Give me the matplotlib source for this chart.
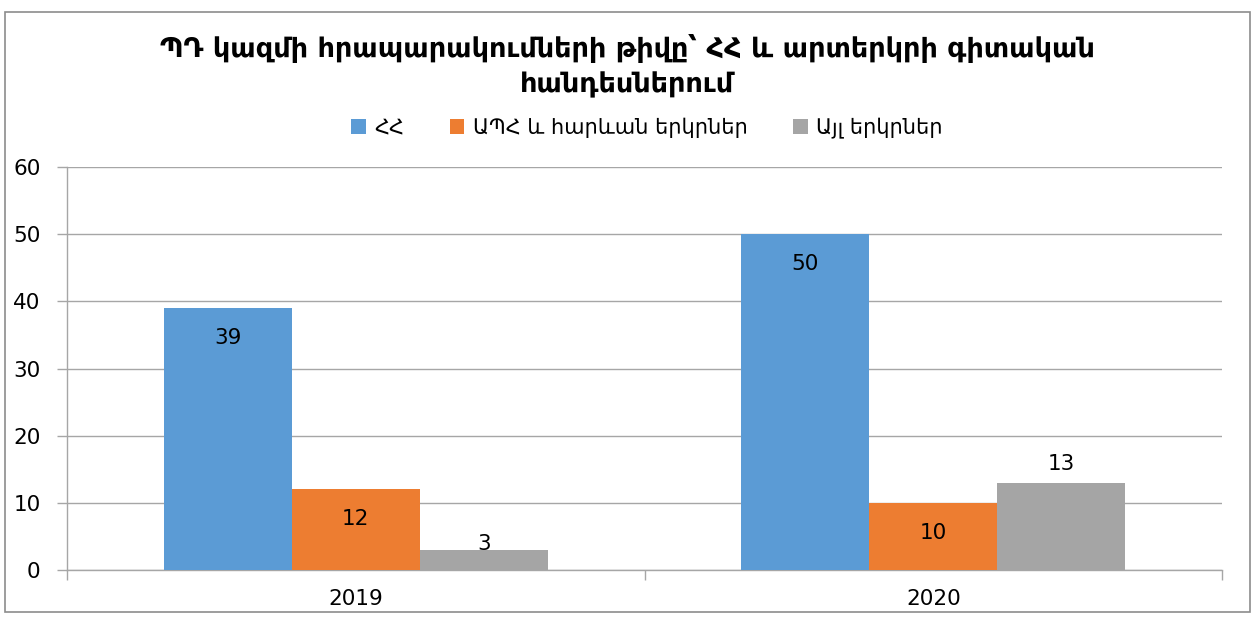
import matplotlib.pyplot as plt
import numpy as np
from matplotlib.patches import Rectangle

years = ["2019", "2020"]
series_names = ["ՀՀ", "ԱՊՀ և հարևան երկրներ", "Այլ երկրներ"]
hh = [39, 50]
aph = [12, 10]
ayl = [3, 13]
title = "ՊԴ կազմի հրապարակումների թիվը՝ ՀՀ և արտերկրի գիտական\nհանդեսներում"

colors = ["#5B9BD5", "#ED7D31", "#A5A5A5"]
grid_c = "#A6A6A6"
# label offsets in pixels (negative = inside bar)
lab_off = [[-30, -30], [-30, -30], [6, 19]]

plt.rcParams['font.family'] = ['DejaVu Sans']

fig = plt.figure(figsize=(12.54, 6.17), dpi=100)
ax = fig.add_axes([67/1254, 1-570/617, (1222-67)/1254, (570-167)/617])

x = np.arange(len(years))
w = 0.2216
data = [hh, aph, ayl]
for i in range(3):
    xs = x + (i-1)*w
    ax.bar(xs, data[i], width=w, color=colors[i], label=series_names[i], zorder=3)
    for j in range(len(years)):
        ax.annotate(str(data[i][j]), (xs[j], data[i][j]), xytext=(0, lab_off[i][j]*0.72),
                    textcoords="offset points", ha="center", va="center", fontsize=15.5, zorder=4)

ax.set_xlim(-0.5, 1.5)
ax.set_ylim(0, 60)
ax.set_yticks(range(0, 61, 10))
ax.set_xticks(x)
ax.set_xticklabels(years)
ax.set_xticks([-0.5, 0.5, 1.5], minor=True)
ax.tick_params(axis="x", which="major", length=0, labelsize=15.5, pad=14)
ax.tick_params(axis="x", which="minor", length=7, color=grid_c, width=1)
ax.tick_params(axis="y", length=7, color=grid_c, width=1, labelsize=15.5, pad=12)
ax.yaxis.grid(True, color=grid_c, linewidth=1, zorder=0)
for s in ["top", "right"]:
    ax.spines[s].set_visible(False)
for s in ["left", "bottom"]:
    ax.spines[s].set_color(grid_c)
    ax.spines[s].set_linewidth(1)

fig.text(0.5, 1-66/617, title, ha="center", va="center", fontsize=19.5, fontweight="bold",
         family=["DejaVu Sans Condensed", "DejaVu Sans"], linespacing=1.45)
fig.legend(loc="center", bbox_to_anchor=(647/1254, 1-128/617), ncol=3, frameon=False,
           fontsize=15, handlelength=0.7, handleheight=0.7, handletextpad=0.4, columnspacing=2.2)

fig.patches.append(Rectangle((5/1254, 1-612/617), 1245/1254, 600/617, transform=fig.transFigure,
                             fill=False, edgecolor="#8C8C8C", linewidth=1.2))

fig.savefig("out.png", dpi=100)
